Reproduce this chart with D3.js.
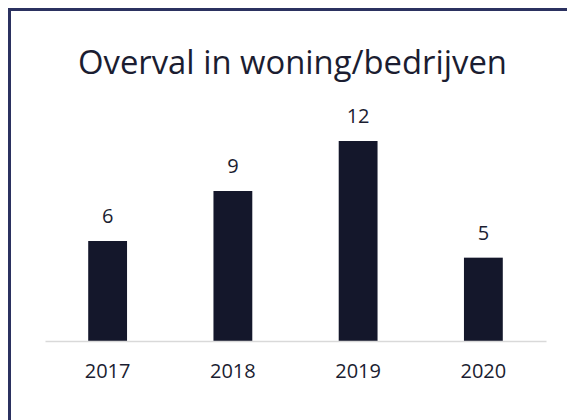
<!DOCTYPE html>
<html><head><meta charset="utf-8">
<script src="https://cdn.jsdelivr.net/npm/d3@7"></script>
<style>html,body{margin:0;padding:0;background:#fff;}svg{display:block;}</style>
</head><body>
<svg id="c" width="567" height="420"></svg>
<script>
const title = "Overval in woning/bedrijven";
const categories = ["2017", "2018", "2019", "2020"];
const values = [6, 9, 12, 5];

const svg = d3.select("#c");
const W = 567, H = 420;
const font = "'Open Sans', sans-serif";
const textColor = "#1b1d31";
const barColor = "#14172b";

svg.append("rect").attr("width", W).attr("height", H).attr("fill", "#fff");
// border on top and left
svg.append("path").attr("d", `M9.5,${H} V9.5 H${W}`)
  .attr("fill", "none").attr("stroke", "#2b3160").attr("stroke-width", 3);

const x = d3.scaleBand().domain(categories).range([45, 546]).paddingInner(0.69).paddingOuter(0.345);
const y = d3.scaleLinear().domain([0, 6]).range([341, 241]);

svg.selectAll("rect.bar").data(values).join("rect").attr("class", "bar")
  .attr("x", (d, i) => x(categories[i]))
  .attr("width", x.bandwidth())
  .attr("y", d => y(d))
  .attr("height", d => y(0) - y(d))
  .attr("fill", barColor);

const xAxis = svg.append("g").attr("transform", `translate(0,${y(0)})`)
  .call(d3.axisBottom(x).tickSize(0).tickPadding(23));
xAxis.select(".domain").attr("stroke", "#d9d9d9").attr("stroke-width", 1.5);
xAxis.selectAll("text").attr("font-family", font).attr("font-size", 20).attr("fill", textColor);

svg.selectAll("text.val").data(values).join("text").attr("class", "val")
  .attr("x", (d, i) => x(categories[i]) + x.bandwidth() / 2)
  .attr("y", d => y(d) - 18)
  .attr("text-anchor", "middle")
  .attr("font-family", font).attr("font-size", 20).attr("fill", textColor)
  .text(d => d);

const t = svg.append("text").attr("x", 292.5).attr("y", 73.5)
  .attr("text-anchor", "middle")
  .attr("font-family", font).attr("font-size", 31).attr("fill", textColor)
  .text(title);
const len = t.node().getComputedTextLength();
t.attr("font-size", 31 * Math.min(1.1, Math.max(0.9, 429 / len)));
</script>
</body></html>
